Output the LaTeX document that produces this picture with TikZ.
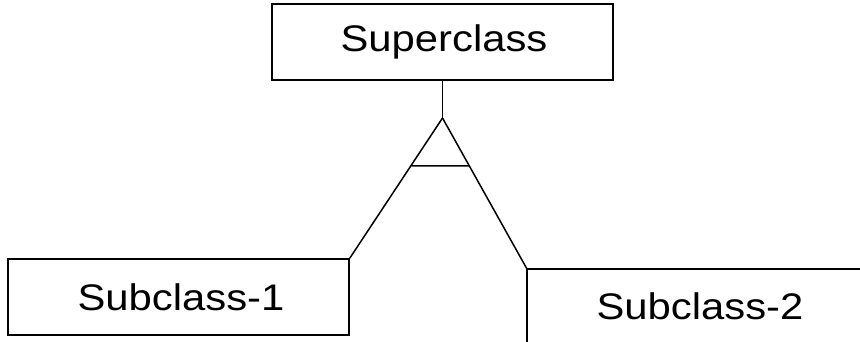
\documentclass[tikz,border=0pt]{standalone}
\usepackage{fontspec}
\setmainfont{Liberation Sans}
\usetikzlibrary{calc}
\begin{document}
\begin{tikzpicture}[x=1pt,y=1pt,
  line/.style={draw=black,line width=1.5pt},
  cls/.style={line,rectangle,minimum width=341pt,minimum height=76pt,inner sep=0pt},
  lbl/.style={font=\fontsize{37}{44}\selectfont}]
\useasboundingbox (0,0) rectangle (860,-342);
\node[cls] (super) at (442.5,-42) {};
\node[lbl] (supertxt) at (444,-42) {\scalebox{1.13}[1]{Superclass}};
\node[cls] (sub1) at (178.5,-297) {};
\node[lbl] (sub1txt) at (181,-297) {\scalebox{1.13}[1]{Subclass-1}};
\node[lbl] (sub2) at (700,-306) {\scalebox{1.13}[1]{Subclass-2}};
\coordinate (apex) at (442.5,-118);
\coordinate (s2tl) at (527,-269);
\coordinate (s2tr) at (860,-269);
\coordinate (s2bl) at (527,-342);
\draw[line] (super.south) -- (apex);
\draw[line] (apex) -- (sub1.north east);
\draw[line] (apex) -- (s2tl);
\draw[line] ($(apex)!48/141!(sub1.north east)$) coordinate (bl) -- ($(apex)!48/151!(s2tl)$) coordinate (br);
\draw[line] (s2tr) -- (s2tl) -- (s2bl);
\end{tikzpicture}
\end{document}
